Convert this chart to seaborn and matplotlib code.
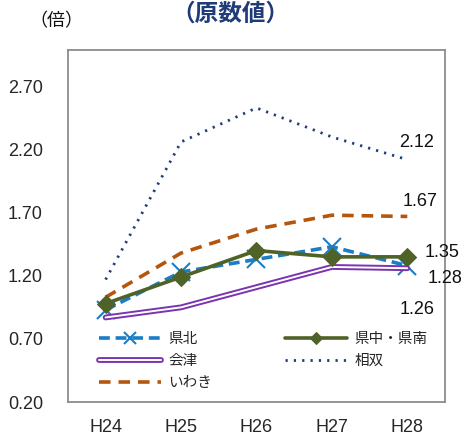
import numpy as np
import pandas as pd
import matplotlib
matplotlib.use("Agg")
import matplotlib.pyplot as plt
import matplotlib.patheffects as pe
import seaborn as sns

# ------------------------------------------------------------
# data
# ------------------------------------------------------------
years = ["H24", "H25", "H26", "H27", "H28"]
kenpoku = [0.93, 1.23, 1.33, 1.43, 1.28]
kenchu_kennan = [0.98, 1.19, 1.40, 1.35, 1.35]
aizu = [0.87, 0.95, 1.11, 1.27, 1.26]
sousou = [1.17, 2.26, 2.53, 2.30, 2.12]
iwaki = [1.03, 1.38, 1.57, 1.68, 1.67]

end_labels = ["2.12", "1.67", "1.35", "1.28", "1.26"]

yticks = [0.20, 0.70, 1.20, 1.70, 2.20, 2.70]

# ------------------------------------------------------------
# style
# ------------------------------------------------------------
sns.set_style("white")
plt.rcParams["font.family"] = ["Noto Sans CJK JP", "DejaVu Sans"]
NUM_FONT = ["Liberation Sans", "DejaVu Sans"]

fig = plt.figure(figsize=(4.65, 4.37), dpi=100)
ax = fig.add_axes([0.146, 0.080, 0.811, 0.806])

x = np.arange(len(years))

sns.lineplot(x=x, y=kenpoku, ax=ax, color="#1a7dc8", lw=2.6,
             linestyle=(0, (3, 1.6)), marker="x", markersize=13,
             markeredgewidth=1.5, markeredgecolor="#1a7dc8", label="県北")
sns.lineplot(x=x, y=aizu, ax=ax, color="white", lw=1.4,
             label="会津",
             path_effects=[pe.Stroke(linewidth=4.2, foreground="#7a34b0"),
                           pe.Normal()])
sns.lineplot(x=x, y=iwaki, ax=ax, color="#b5560f", lw=2.6,
             linestyle=(0, (3.2, 2.2)), label="いわき")
sns.lineplot(x=x, y=kenchu_kennan, ax=ax, color="#4f6228", lw=2.6,
             marker="D", markersize=9, markeredgecolor="#4f6228",
             label="県中・県南")
sns.lineplot(x=x, y=sousou, ax=ax, color="#1f3e78", lw=2.0,
             linestyle=(0, (0.8, 2.2)), label="相双")

# value labels at the right end (left edge x, centre y in data units)
label_x = [3.89, 3.94, 4.23, 4.27, 3.90]
label_y = [2.256, 1.787, 1.383, 1.176, 0.93]
for lab, px, py in zip(end_labels, label_x, label_y):
    ax.text(px, py, lab, fontsize=13, family=NUM_FONT, ha="left",
            va="center", color="#111111")

# axes
ax.set_xlim(-0.5, 4.5)
ax.set_ylim(0.2, 2.99)
ax.set_yticks(yticks)
ax.set_yticklabels([f"{v:.2f}" for v in yticks], fontsize=13,
                   family=NUM_FONT)
ax.set_xticks(np.arange(-0.5, 5.0, 1.0))
ax.set_xticklabels([])
ax.set_xticks(x, minor=True)
ax.set_xticklabels(years, minor=True, fontsize=13, family=NUM_FONT)
ax.tick_params(axis="y", which="major", direction="inout", length=10,
               width=1.2, color="#888888", pad=13)
ax.tick_params(axis="x", which="major", direction="inout", length=10,
               width=1.2, color="#888888")
ax.tick_params(axis="x", which="minor", length=0, pad=12)
for s in ax.spines.values():
    s.set_color("#8c8c8c")
    s.set_linewidth(1.3)
ax.set_xlabel("")
ax.set_ylabel("")

# legend (row order: 県北 / 県中・県南, 会津 / 相双, いわき)
handles, labels = ax.get_legend_handles_labels()
ax.legend(handles, labels, ncol=2, loc="lower left",
          bbox_to_anchor=(0.06, 0.009), frameon=False, fontsize=10.5,
          handlelength=4.25, handletextpad=0.5, columnspacing=5.0,
          labelspacing=0.56, borderaxespad=0.2, markerscale=0.65)

fig.text(0.495, 0.968, "（原数値）", ha="center", va="center",
         fontsize=17, fontweight="bold", color="#1f3c78")
fig.text(0.122, 0.952, "（倍）", ha="center", va="center", fontsize=13,
         color="#111111")

fig.savefig("out.png", dpi=100)
